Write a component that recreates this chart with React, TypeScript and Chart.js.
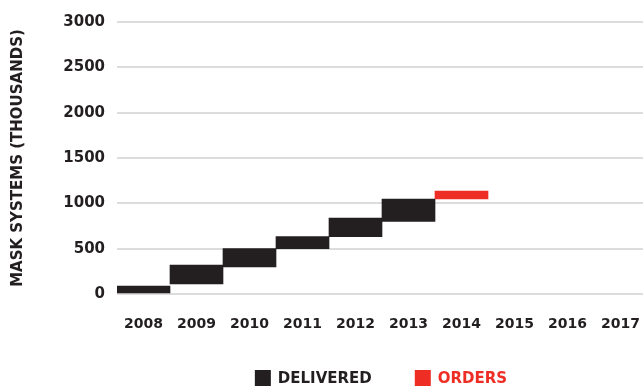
import React, { useEffect, useRef } from "react";
import { Chart, registerables } from "chart.js";

Chart.register(...registerables);

const categories = ["2008", "2009", "2010", "2011", "2012", "2013", "2014", "2015", "2016", "2017"];
const deliveredLow = [0, 110, 300, 500, 632, 800, null, null, null, null];
const deliveredHigh = [88, 320, 500, 632, 838, 1048, null, null, null, null];
const ordersLow = [null, null, null, null, null, null, 1050, null, null, null];
const ordersHigh = [null, null, null, null, null, null, 1135, null, null, null];
const yTicks = [0, 500, 1000, 1500, 2000, 2500, 3000];

const DARK = "#231f20";
const RED = "#ee2d24";
const FONT = "'DejaVu Sans', sans-serif";

function pairs(lo: (number | null)[], hi: (number | null)[]) {
  return lo.map((l, i) => (l === null || hi[i] === null ? null : [l, hi[i] as number]));
}

const legendPlugin = {
  id: "customLegend",
  afterDraw(chart: any) {
    const ctx = chart.ctx;
    const box = 16;
    const gapText = 7;
    const gapItem = 43;
    ctx.save();
    ctx.font = `bold 15px ${FONT}`;
    ctx.textBaseline = "middle";
    ctx.textAlign = "left";
    const items = chart.data.datasets.map((ds: any) => ({
      text: ds.label,
      color: ds.backgroundColor,
      w: ctx.measureText(ds.label).width,
    }));
    const total =
      items.reduce((s: number, it: any) => s + box + gapText + it.w, 0) + gapItem * (items.length - 1);
    let x = 381 - total / 2;
    const top = 370;
    items.forEach((it: any) => {
      ctx.fillStyle = it.color;
      ctx.fillRect(x, top, box, box);
      ctx.fillText(it.text, x + box + gapText, top + box / 2 + 1);
      x += box + gapText + it.w + gapItem;
    });
    ctx.restore();
  },
};

export default function App() {
  const ref = useRef<HTMLCanvasElement>(null);
  useEffect(() => {
    document.body.style.margin = "0";
    document.body.style.overflow = "hidden";
    const chart = new Chart(ref.current!, {
      type: "bar",
      data: {
        labels: categories,
        datasets: [
          {
            label: "DELIVERED",
            data: pairs(deliveredLow, deliveredHigh) as any,
            backgroundColor: DARK,
            borderWidth: 0,
            grouped: false,
            barPercentage: 1,
            categoryPercentage: 1,
          },
          {
            label: "ORDERS",
            data: pairs(ordersLow, ordersHigh) as any,
            backgroundColor: RED,
            borderWidth: 0,
            grouped: false,
            barPercentage: 1,
            categoryPercentage: 1,
          },
        ],
      },
      options: {
        animation: false,
        responsive: false,
        layout: { padding: { top: 22, right: 0, left: 0, bottom: 0 } },
        plugins: {
          tooltip: { enabled: false },
          legend: { display: false },
        },
        scales: {
          x: {
            grid: { display: false, drawTicks: true, tickLength: 22 },
            border: { display: false },
            ticks: {
              color: DARK,
              padding: 0,
              maxRotation: 0,
              autoSkip: false,
              font: { family: FONT, size: 14, weight: "bold" },
            },
            afterFit: (s: any) => {
              s.height = 94;
            },
          },
          y: {
            min: 0,
            max: 3000,
            grid: { color: "#dcdcdc", lineWidth: 2, drawTicks: false },
            border: { display: false },
            afterBuildTicks: (s: any) => {
              s.ticks = yTicks.map((v) => ({ value: v }));
            },
            ticks: {
              color: DARK,
              padding: 12,
              callback: (v: any) => String(v),
              font: { family: FONT, size: 15, weight: "bold" },
            },
            title: {
              display: true,
              text: "MASK SYSTEMS (THOUSANDS)",
              color: DARK,
              padding: { top: 9, bottom: 0 },
              font: { family: FONT, size: 15, weight: "bold" },
            },
            afterFit: (s: any) => {
              s.width = 117;
            },
          },
        },
      } as any,
      plugins: [legendPlugin],
    });
    return () => chart.destroy();
  }, []);
  return (
    <div style={{ position: "fixed", left: 0, top: 0, width: 643, height: 388, overflow: "hidden" }}>
      <canvas ref={ref} width={647} height={388} style={{ display: "block" }} />
    </div>
  );
}
